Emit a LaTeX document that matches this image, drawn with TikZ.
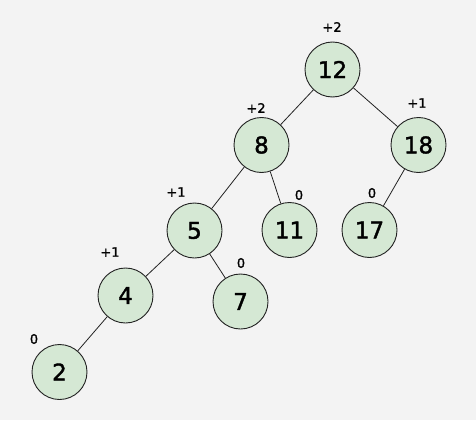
\documentclass[tikz,border=0pt]{standalone}
\usepackage{fontspec}
\setmainfont{DejaVu Sans}
\newfontfamily\numfont[FakeBold=1.6]{DejaVu Sans}
\newfontfamily\balfont[FakeBold=1.2]{DejaVu Sans}
\definecolor{bg}{HTML}{F3F3F3}
\definecolor{nodefill}{HTML}{D5E8D4}
\definecolor{edgecol}{HTML}{222222}
\begin{document}
\begin{tikzpicture}[x=1pt,y=-1pt,
  tnode/.style={circle,draw=edgecol,line width=0.9pt,fill=nodefill,minimum size=55pt,inner sep=0pt,font=\numfont\fontsize{23}{23}\selectfont},
  bal/.style={font=\balfont\fontsize{13}{13}\selectfont,inner sep=0pt},
  edge/.style={draw=edgecol,line width=0.8pt}]
\fill[bg] (0,0) rectangle (476,420);
\useasboundingbox (0,0) rectangle (476,420);
\node[tnode] (n12) at (332.5,69.5) {12};
\node[tnode] (n8) at (261.5,145) {8};
\node[tnode] (n18) at (418.5,145) {18};
\node[tnode] (n5) at (194.5,230.5) {5};
\node[tnode] (n11) at (289.5,230) {11};
\node[tnode] (n17) at (369.5,230) {17};
\node[tnode] (n4) at (125.5,295.5) {4};
\node[tnode] (n7) at (240.5,301.5) {7};
\node[tnode] (n2) at (59.5,372) {2};
\draw[edge] (n12) -- (n8);
\draw[edge] (n12) -- (n18);
\draw[edge] (n8) -- (n5);
\draw[edge] (n8) -- (n11);
\draw[edge] (n18) -- (n17);
\draw[edge] (n5) -- (n4);
\draw[edge] (n5) -- (n7);
\draw[edge] (n4) -- (n2);
\node[bal] (b12) at (332,27) {+2};
\node[bal] (b8) at (256,108) {+2};
\node[bal] (b18) at (417,103) {+1};
\node[bal] (b5) at (176,192) {+1};
\node[bal] (b4) at (110,252) {+1};
\node[bal] (b7) at (241,263) {0};
\node[bal] (b11) at (299,195) {0};
\node[bal] (b17) at (372,193) {0};
\node[bal] (b2) at (34,339) {0};
\end{tikzpicture}
\end{document}
